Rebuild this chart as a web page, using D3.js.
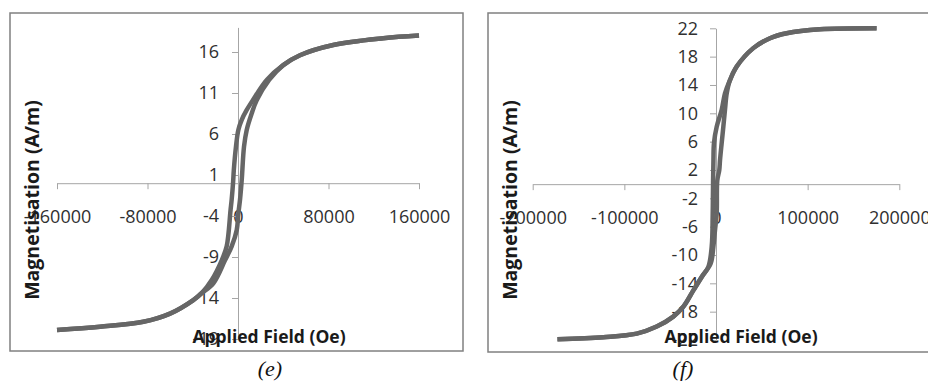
<!DOCTYPE html>
<html><head><meta charset="utf-8">
<script src="https://cdn.jsdelivr.net/npm/d3@7/dist/d3.min.js"></script>
<style>body{margin:0;background:#fff}svg{display:block}</style>
</head><body>
<svg id="c" width="928" height="381"></svg>
<script>
// ---- Panel (e) data ----
const eTicksX = [-160000, -80000, 0, 80000, 160000];
const eTicksY = [-19, -14, -9, -4, 1, 6, 11, 16];
const eDomainX = [-160000, 160000];
const eDomainY = [-19, 19];
const eDescending = [[160000,18.0],[128400,17.67],[84200,16.85],[54800,15.6],[40000,14.4],[25400,12.6],[13000,10.1],[7600,8.9],[3200,7.7],[300,6.5],[-1800,4.45],[-3700,1.6],[-4300,0.2],[-5600,-2],[-6600,-3.3],[-10000,-7.7],[-14400,-9.4],[-23200,-11.8],[-32100,-13.4],[-39500,-14.25],[-60100,-15.9],[-83700,-16.9],[-122000,-17.5],[-160000,-17.9]];
const eAscending = [[-160000,-17.9],[-122000,-17.5],[-83700,-16.9],[-60100,-15.9],[-39500,-14.25],[-32100,-13.4],[-21800,-12.2],[-11500,-9.4],[-5600,-7.7],[-1100,-5.7],[300,-3.7],[1800,-2],[3300,0.4],[5300,4.45],[7700,6.5],[12100,8.5],[16500,10.1],[27500,12.6],[40000,14.4],[54800,15.6],[84200,16.85],[128400,17.67],[160000,18.0]];

// ---- Panel (f) data ----
const fTicksX = [-200000, -100000, 0, 100000, 200000];
const fTicksY = [-22, -18, -14, -10, -6, -2, 2, 6, 10, 14, 18, 22];
const fDomainX = [-200000, 200000];
const fDomainY = [-22, 22];
const fDescending = [[175200,22.0],[113400,21.85],[77100,21.3],[58900,20.6],[40700,19.2],[22600,16.6],[15000,14.6],[9800,12.8],[6200,10.5],[760,8.1],[-2200,5.8],[-2800,3.4],[-3200,0.3],[-3600,-4.1],[-4700,-8.85],[-8400,-11.7],[-15600,-13.1],[-24700,-15.0],[-35600,-17.3],[-46600,-18.7],[-64700,-20.1],[-86500,-21.1],[-122900,-21.6],[-173000,-21.9]];
const fAscending = [[-173000,-21.9],[-122900,-21.6],[-86500,-21.1],[-64700,-20.1],[-46600,-18.7],[-35600,-17.3],[-24700,-15.0],[-15600,-13.1],[-5800,-11.2],[-2900,-8.85],[-1100,-6.5],[760,-4.1],[1400,0.5],[3600,2],[4400,3.4],[6200,5.8],[8000,8.1],[9800,10.5],[11700,12.8],[15000,14.6],[22600,16.6],[40700,19.2],[58900,20.6],[77100,21.3],[113400,21.85],[175200,22.0]];

const xTitle = "Applied Field (Oe)";
const yTitle = "Magnetisation (A/m)";

const svg = d3.select("#c");
const LABEL_FONT = "'Open Sans', 'Liberation Sans', sans-serif";

function panel(c) {
  const g = svg.append("g");
  g.append("rect").attr("x", c.box[0]).attr("y", c.box[1]).attr("width", c.box[2]).attr("height", c.box[3])
    .attr("fill", "none").attr("stroke", "#808080").attr("stroke-width", 1.5);
  const x = d3.scaleLinear().domain(c.dx).range(c.rx);
  const y = d3.scaleLinear().domain(c.dy).range(c.ry);

  const xa = g.append("g").attr("transform", `translate(0,${y(0)})`)
    .call(d3.axisBottom(x).tickValues(c.tx).tickSize(6).tickSizeOuter(0).tickPadding(21).tickFormat(d => String(d)));
  const ya = g.append("g").attr("transform", `translate(${x(0)},0)`)
    .call(d3.axisLeft(y).tickValues(c.ty).tickSize(6).tickSizeOuter(0).tickPadding(c.ypad).tickFormat(d => String(d)));
  [xa, ya].forEach(a => {
    a.select(".domain").attr("stroke", "#a6a6a6");
    a.selectAll(".tick line").attr("stroke", "#a6a6a6");
    a.selectAll(".tick text").attr("fill", "#303030").style("font-family", LABEL_FONT).style("font-size", "18px");
  });

  const line = d3.line().x(d => x(d[0])).y(d => y(d[1])).curve(d3.curveCatmullRom.alpha(0.5));
  [c.desc, c.asc].forEach(s => {
    g.append("path").attr("d", line(s)).attr("fill", "none").attr("stroke", "#666666")
      .attr("stroke-width", 4.5).attr("stroke-linejoin", "round").attr("stroke-linecap", "butt");
  });

  g.append("text").attr("transform", `translate(${c.yt[0]},${c.yt[1]}) rotate(-90)`)
    .attr("text-anchor", "middle").attr("dominant-baseline", "central")
    .style("font-family", LABEL_FONT).style("font-weight", "bold").style("font-size", "19.5px").attr("fill", "#1a1a1a")
    .text(yTitle);
  g.append("text").attr("x", c.xt[0]).attr("y", c.xt[1]).attr("text-anchor", "middle")
    .style("font-family", LABEL_FONT).style("font-weight", "bold").style("font-size", "17.5px").attr("fill", "#1a1a1a")
    .text(xTitle);
  g.append("text").attr("x", c.cap[0]).attr("y", c.cap[1]).attr("text-anchor", "middle")
    .style("font-family", "'Liberation Serif', 'DejaVu Serif', serif").style("font-style", "italic").style("font-size", "22px")
    .attr("fill", "#111").text(c.caption);
}

panel({box:[10,13,453,338], dx:eDomainX, rx:[57,419], dy:eDomainY, ry:[339,27.4], tx:eTicksX, ty:eTicksY, ypad:13,
  desc:eDescending, asc:eAscending, yt:[31,200], xt:[269,343], cap:[270,376], caption:"(e)"});
panel({box:[488,13,470,339], dx:fDomainX, rx:[532.7,899.3], dy:fDomainY, ry:[340,28.3], tx:fTicksX, ty:fTicksY, ypad:12,
  desc:fDescending, asc:fAscending, yt:[509,200], xt:[741,343], cap:[683,376], caption:"(f)"});
</script>
</body></html>
